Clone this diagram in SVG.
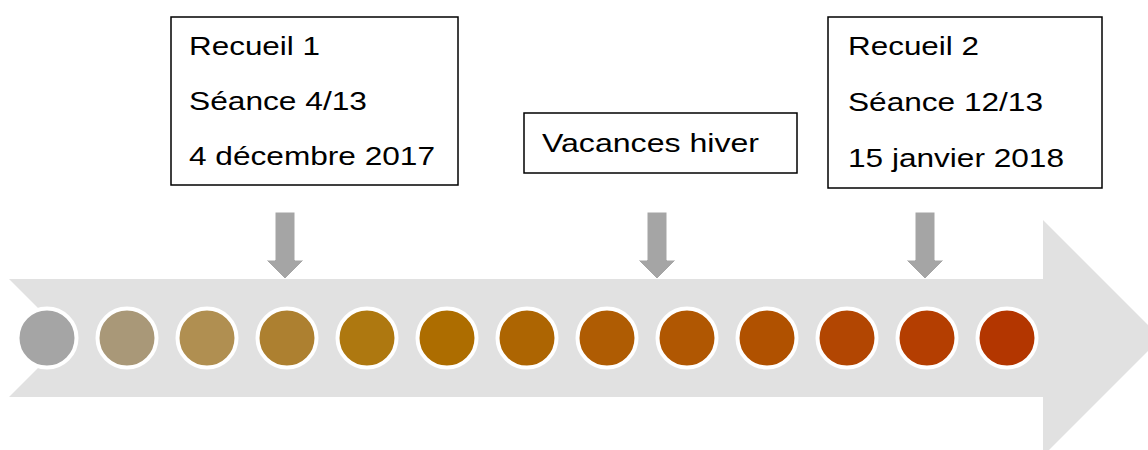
<svg xmlns="http://www.w3.org/2000/svg" width="1148" height="450" viewBox="0 0 1148 450">
<style>
.box{fill:#ffffff;stroke:#000000;stroke-width:1.5}
.t{font-family:"Liberation Sans",Arial,sans-serif;font-size:25.6px;fill:#000000}
.dot{stroke:#ffffff;stroke-width:4}
.marker{fill:#a5a5a5;stroke:#ffffff;stroke-width:1}
</style>
<g id="timeline">
<polygon points="9,279 1043,279 1043,220 1161,338 1043,456 1043,397 9,397 68,338" fill="#e1e1e1"/>
</g>
<g id="connectors">
<polygon class="marker" points="275,212 295,212 295,260 304,260 285,279 266,260 275,260"/>
<polygon class="marker" points="647,212 667,212 667,260 676,260 657,279 638,260 647,260"/>
<polygon class="marker" points="915,212 935,212 935,260 944,260 925,279 906,260 915,260"/>
</g>
<g id="dots">
<circle class="dot" cx="47" cy="338" r="29.5" fill="#a5a5a5"/>
<circle class="dot" cx="127" cy="338" r="29.5" fill="#a99878"/>
<circle class="dot" cx="207" cy="338" r="29.5" fill="#b08f51"/>
<circle class="dot" cx="287" cy="338" r="29.5" fill="#ad8030"/>
<circle class="dot" cx="367" cy="338" r="29.5" fill="#ae7810"/>
<circle class="dot" cx="447" cy="338" r="29.5" fill="#ad6d00"/>
<circle class="dot" cx="527" cy="338" r="29.5" fill="#ad6502"/>
<circle class="dot" cx="607" cy="338" r="29.5" fill="#af5c03"/>
<circle class="dot" cx="687" cy="338" r="29.5" fill="#b05702"/>
<circle class="dot" cx="767" cy="338" r="29.5" fill="#b05100"/>
<circle class="dot" cx="847" cy="338" r="29.5" fill="#b24602"/>
<circle class="dot" cx="927" cy="338" r="29.5" fill="#b43e01"/>
<circle class="dot" cx="1007" cy="338" r="29.5" fill="#b33600"/>
</g>
<g id="recueil1">
<rect class="box" x="171" y="17" width="287" height="168"/>
<text class="t" x="189" y="55" textLength="131" lengthAdjust="spacingAndGlyphs">Recueil 1</text>
<text class="t" x="189" y="110" textLength="178" lengthAdjust="spacingAndGlyphs">Séance 4/13</text>
<text class="t" x="189" y="165" textLength="246" lengthAdjust="spacingAndGlyphs">4 décembre 2017</text>
</g>
<g id="vacances">
<rect class="box" x="524" y="113" width="273" height="60"/>
<text class="t" x="542" y="152" textLength="217" lengthAdjust="spacingAndGlyphs">Vacances hiver</text>
</g>
<g id="recueil2">
<rect class="box" x="828" y="17" width="274" height="171"/>
<text class="t" x="848" y="55" textLength="131" lengthAdjust="spacingAndGlyphs">Recueil 2</text>
<text class="t" x="848" y="111" textLength="195" lengthAdjust="spacingAndGlyphs">Séance 12/13</text>
<text class="t" x="848" y="167" textLength="216" lengthAdjust="spacingAndGlyphs">15 janvier 2018</text>
</g>
</svg>
